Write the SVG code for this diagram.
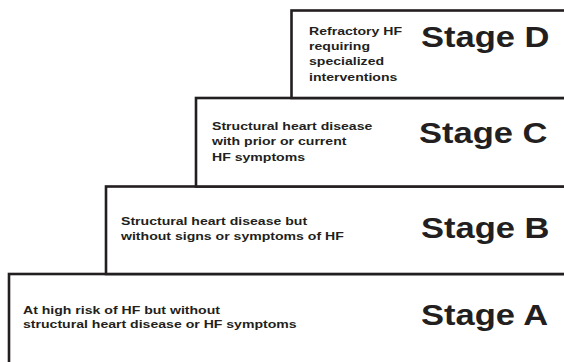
<svg xmlns="http://www.w3.org/2000/svg" width="564" height="362" viewBox="0 0 564 362">
<style>
.box{fill:#fff;stroke:#231f20;stroke-width:2.6}
.sm{font-family:"Liberation Sans",Arial,sans-serif;font-weight:bold;font-size:11px;fill:#231f20}
.lg{font-family:"Liberation Sans",Arial,sans-serif;font-weight:bold;font-size:29px;fill:#231f20}
</style>
<rect width="564" height="362" fill="#fff"/>
<g id="stageA">
<rect class="box" x="9" y="274" width="600" height="120"/>
<text class="sm" transform="translate(23,313.5) scale(1.28,1)"><tspan x="0" y="0">At high risk of HF but without</tspan><tspan x="0" y="15">structural heart disease or HF symptoms</tspan></text>
<text class="lg" transform="translate(421,325) scale(1.19,1)">Stage A</text>
</g>
<g id="stageB">
<rect class="box" x="106" y="186.5" width="500" height="87.5"/>
<text class="sm" transform="translate(121,224.5) scale(1.28,1)"><tspan x="0" y="0">Structural heart disease but</tspan><tspan x="0" y="15.5">without signs or symptoms of HF</tspan></text>
<text class="lg" transform="translate(421,238) scale(1.19,1)">Stage B</text>
</g>
<g id="stageC">
<rect class="box" x="196" y="98" width="400" height="88.5"/>
<text class="sm" transform="translate(212,130) scale(1.28,1)"><tspan x="0" y="0">Structural heart disease</tspan><tspan x="0" y="15.5">with prior or current</tspan><tspan x="0" y="31">HF symptoms</tspan></text>
<text class="lg" transform="translate(419,143) scale(1.19,1)">Stage C</text>
</g>
<g id="stageD">
<rect class="box" x="291.5" y="10.5" width="300" height="87.5"/>
<text class="sm" transform="translate(309,34.5) scale(1.28,1)"><tspan x="0" y="0">Refractory HF</tspan><tspan x="0" y="15.5">requiring</tspan><tspan x="0" y="31">specialized</tspan><tspan x="0" y="46.5">interventions</tspan></text>
<text class="lg" transform="translate(421,47) scale(1.19,1)">Stage D</text>
</g>
<g id="connectors"></g>
</svg>
